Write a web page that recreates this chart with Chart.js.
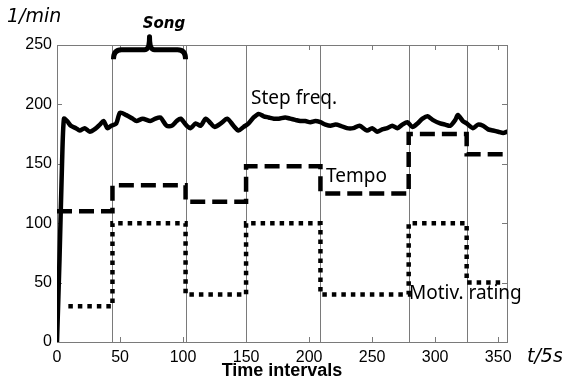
<!DOCTYPE html>
<html>
<head>
<meta charset="utf-8">
<script src="https://cdn.jsdelivr.net/npm/chart.js@4/dist/chart.umd.min.js"></script>
<style>
  html, body { margin: 0; padding: 0; background: #fff; }
  #wrap { width: 562px; height: 381px; }
</style>
</head>
<body>
<div id="wrap"><canvas id="chart"></canvas></div>
<script>
// data
const stepTimes = [0, 2, 4, 5.5, 8, 11, 15, 18, 22, 26, 31, 34, 37, 40, 43, 47, 50, 55, 60, 63, 68, 74, 78, 82, 87, 91, 95, 98,
  103, 106, 110, 114, 118, 122, 125, 130, 135, 140, 144, 148, 152, 156, 160, 164, 168, 172, 176, 181, 185, 189, 193, 197,
  201, 205, 209, 213, 217, 221, 225, 230, 235, 240, 246, 250, 254, 258, 262, 266, 270, 274, 278, 282, 286, 290, 294, 298,
  304, 308, 312, 316, 318, 322, 325, 330, 334, 338, 342, 346, 350, 354, 357];
const stepValues = [0, 70, 150, 188, 186, 182, 180, 178, 180, 177, 180, 183, 186, 180, 182, 184, 193, 191, 188, 186, 188, 186, 188, 189, 182, 182, 186, 188,
  182, 180, 184, 182, 188, 184, 181, 184, 188, 182, 178, 181, 184, 189, 192, 190, 189, 188, 188, 189, 188, 187, 186, 186,
  185, 186, 185, 183, 182, 183, 182, 180, 180, 182, 178, 180, 177, 179, 180, 182, 180, 183, 185, 181, 184, 188, 190, 187,
  184, 183, 182, 187, 191, 186, 184, 180, 183, 182, 179, 178, 177, 176, 177];

const phaseBounds = [0, 44, 102, 150, 209, 279, 325, 357];
const tempoLevels = [110, 132, 118, 148, 125, 175, 158];
const motivLevels = [30, 100, 40, 100, 40, 100, 50];
const motivStart = 9;
const motivEnd = 353;
const songPhase = [44, 102];

const xTicks = [0, 50, 100, 150, 200, 250, 300, 350];
const yTicks = [0, 50, 100, 150, 200, 250];

function levelsToPoints(levels, start, end) {
    const pts = [];
    levels.forEach((lv, i) => {
        const a = i === 0 ? start : phaseBounds[i];
        const b = i === levels.length - 1 ? end : phaseBounds[i + 1];
        pts.push({ x: a, y: lv });
        pts.push({ x: b, y: lv });
    });
    return pts;
}

const stepData = stepTimes.map((t, i) => ({ x: t, y: stepValues[i] }));
const tempoData = levelsToPoints(tempoLevels, 0, 357);
const motivData = levelsToPoints(motivLevels, motivStart, motivEnd);

// frame, inward ticks, phase lines, brace and labels
const decorPlugin = {
    id: 'decor',
    beforeDatasetsDraw(chart) {
        const { ctx, chartArea: a, scales: { x, y } } = chart;
        ctx.save();
        ctx.strokeStyle = '#7a7a7a';
        ctx.lineWidth = 1;
        phaseBounds.slice(1, -1).forEach(b => {
            const px = Math.round(x.getPixelForValue(b)) + 0.5;
            ctx.beginPath();
            ctx.moveTo(px, a.top);
            ctx.lineTo(px, a.bottom);
            ctx.stroke();
        });
        ctx.strokeRect(a.left + 0.5, a.top + 0.5, a.right - a.left, a.bottom - a.top);
        xTicks.forEach(t => {
            const px = Math.round(x.getPixelForValue(t)) + 0.5;
            ctx.beginPath();
            ctx.moveTo(px, a.bottom); ctx.lineTo(px, a.bottom - 5);
            ctx.moveTo(px, a.top); ctx.lineTo(px, a.top + 5);
            ctx.stroke();
        });
        yTicks.forEach(v => {
            const py = Math.round(y.getPixelForValue(v)) + 0.5;
            ctx.beginPath();
            ctx.moveTo(a.left, py); ctx.lineTo(a.left + 5, py);
            ctx.moveTo(a.right, py); ctx.lineTo(a.right - 5, py);
            ctx.stroke();
        });
        ctx.restore();
    },
    afterDatasetsDraw(chart) {
        const { ctx, scales: { x, y } } = chart;
        ctx.save();
        // brace over the song phase
        const x0 = x.getPixelForValue(songPhase[0]) + 1;
        const x1 = x.getPixelForValue(songPhase[1]);
        const xm = (x0 + x1) / 2;
        const yEnd = y.getPixelForValue(238);
        const yBar = y.getPixelForValue(246);
        const yTip = y.getPixelForValue(257);
        ctx.strokeStyle = '#000';
        ctx.lineWidth = 5;
        ctx.lineJoin = 'round';
        ctx.beginPath();
        ctx.moveTo(x0, yEnd);
        ctx.quadraticCurveTo(x0, yBar, x0 + 8, yBar);
        ctx.lineTo(xm - 5, yBar);
        ctx.quadraticCurveTo(xm, yBar, xm, yTip);
        ctx.quadraticCurveTo(xm, yBar, xm + 5, yBar);
        ctx.lineTo(x1 - 8, yBar);
        ctx.quadraticCurveTo(x1, yBar, x1, yEnd);
        ctx.stroke();

        ctx.fillStyle = '#000';
        ctx.textBaseline = 'middle';
        ctx.textAlign = 'center';
        ctx.font = 'bold italic 15px "DejaVu Sans"';
        ctx.fillText('Song', 164, 24);

        ctx.textAlign = 'left';
        ctx.font = 'italic 19px "DejaVu Sans"';
        ctx.fillText('1/min', 7, 17);
        ctx.fillText('t/5s', 527, 357);

        ctx.font = '19px "Noto Sans"';
        ctx.fillText('Step freq.', 251, 99);
        ctx.fillText('Tempo', 326, 177);
        ctx.fillText('Motiv. rating', 409, 294);

        ctx.textAlign = 'center';
        ctx.font = 'bold 18px "Liberation Sans"';
        ctx.fillText('Time intervals', 282, 371);
        ctx.restore();
    }
};

const ctx = document.getElementById('chart').getContext('2d');
const chart = new Chart(ctx, {
    type: 'line',
    data: {
        datasets: [
            {
                label: 'Step freq.',
                data: stepData,
                borderColor: '#000',
                borderWidth: 4.5,
                pointRadius: 0,
                tension: 0.25,
                borderJoinStyle: 'round',
                borderCapStyle: 'round'
            },
            {
                label: 'Tempo',
                data: tempoData,
                borderColor: '#000',
                borderWidth: 4.5,
                borderDash: [15, 7],
                pointRadius: 0,
                tension: 0
            },
            {
                label: 'Motiv. rating',
                data: motivData,
                borderColor: '#000',
                borderWidth: 4.5,
                borderDash: [4.5, 5],
                pointRadius: 0,
                tension: 0
            }
        ]
    },
    options: {
        responsive: true,
        maintainAspectRatio: false,
        animation: false,
        layout: { padding: { left: 0, right: 55, top: 45, bottom: 0 } },
        plugins: {
            legend: { display: false },
            tooltip: { enabled: false }
        },
        scales: {
            x: {
                type: 'linear',
                min: 0,
                max: 357,
                afterBuildTicks: s => { s.ticks = xTicks.map(v => ({ value: v })); },
                afterFit: s => { s.height = 39; },
                grid: { display: false, drawTicks: false },
                border: { display: false },
                ticks: {
                    color: '#000',
                    padding: 6,
                    maxRotation: 0,
                    font: { family: 'Liberation Sans', size: 16 }
                }
            },
            y: {
                min: 0,
                max: 250,
                afterBuildTicks: s => { s.ticks = yTicks.map(v => ({ value: v })); },
                afterFit: s => { s.width = 57; },
                grid: { display: false, drawTicks: false },
                border: { display: false },
                ticks: {
                    color: '#000',
                    padding: 5,
                    font: { family: 'Liberation Sans', size: 16 }
                }
            }
        }
    },
    plugins: [decorPlugin]
});
</script>
</body>
</html>
